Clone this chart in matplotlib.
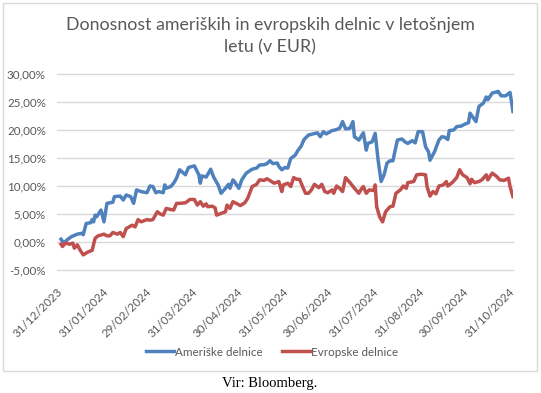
import pandas as pd
import matplotlib
matplotlib.use('Agg')
import matplotlib.pyplot as plt
import matplotlib.dates as mdates
from matplotlib.ticker import FuncFormatter, MultipleLocator
from matplotlib.patches import Rectangle

# dnevi od 31/12/2023 in donosnost (v %), odčitano s slike
us_days = [0, 2, 4, 7, 11, 14, 15, 17, 20, 21, 22, 23, 24, 27, 29, 31, 33, 35, 36, 40,
           42, 44, 47, 49, 51, 54, 58, 60, 62, 64, 66, 69, 70, 71, 74, 76, 78, 80, 84, 86,
           90, 93, 94, 95, 98, 101, 103, 106, 108, 111, 113, 114, 116, 117, 120, 122, 125, 129, 132, 134,
           137, 139, 141, 143, 146, 147, 149, 151, 153, 155, 158, 160, 162, 164, 167, 170, 173, 175, 177, 179,
           183, 185, 188, 190, 192, 195, 197, 198, 201, 204, 206, 207, 210, 212, 214, 216, 218, 220, 222, 224,
           225, 227, 230, 232, 234, 237, 239, 241, 244, 246, 248, 249, 252, 255, 257, 259, 261, 262, 265, 267,
           270, 273, 275, 276, 279, 280, 282, 285, 287, 288, 291, 294, 295, 297, 300, 303, 305]
us_vals = [0.5, -0.2, 0.36, 0.95, 1.4, 1.55, 1.3, 3.3, 3.45, 4.0, 3.6, 4.8, 4.5, 5.7, 3.6, 6.9, 7.0, 7.1, 8.1, 8.2,
           7.5, 8.4, 8.1, 6.9, 9.3, 9.0, 8.8, 10.0, 9.9, 8.8, 9.0, 8.8, 10.2, 9.6, 9.9, 10.5, 11.4, 12.9, 12.0, 13.3,
           13.6, 12.0, 10.5, 11.8, 11.6, 13.0, 11.6, 10.2, 8.7, 9.6, 10.3, 9.6, 11.1, 10.8, 9.6, 11.1, 12.3, 13.0, 13.2, 13.75,
           13.8, 14.0, 14.5, 14.0, 14.1, 13.5, 12.9, 13.3, 13.2, 14.9, 15.5, 16.4, 17.1, 18.3, 19.1, 19.3, 19.5, 18.8, 19.7, 19.3,
           19.9, 20.0, 20.3, 21.5, 20.2, 20.3, 21.5, 18.8, 18.2, 19.5, 16.4, 17.6, 17.9, 19.4, 14.6, 10.8, 12.0, 14.1, 14.5, 14.5,
           15.8, 18.2, 18.4, 17.9, 17.6, 18.1, 17.7, 19.7, 19.7, 17.0, 16.1, 14.6, 16.1, 18.2, 18.8, 18.7, 18.3, 19.9, 20.0, 20.6,
           20.7, 21.1, 21.3, 23.0, 21.9, 21.5, 24.2, 24.8, 25.9, 25.4, 26.6, 26.8, 26.9, 26.1, 26.1, 26.7, 23.3]

eu_days = [0, 1, 3, 6, 8, 9, 11, 13, 15, 18, 21, 23, 25, 29, 31, 33, 35, 38, 40, 42,
           44, 48, 50, 52, 54, 58, 60, 62, 65, 67, 69, 71, 74, 76, 78, 80, 84, 87, 90, 92,
           94, 96, 98, 99, 102, 104, 105, 108, 111, 112, 114, 116, 119, 121, 124, 126, 129, 132, 134, 137,
           139, 142, 144, 147, 149, 150, 153, 155, 157, 159, 161, 163, 165, 167, 169, 171, 174, 176, 178, 180,
           183, 184, 186, 188, 190, 192, 195, 198, 201, 203, 204, 206, 208, 211, 212, 213, 215, 217, 219, 222,
           224, 226, 229, 231, 233, 234, 238, 240, 243, 246, 247, 249, 251, 253, 255, 258, 260, 261, 264, 267,
           269, 271, 274, 276, 277, 279, 282, 284, 287, 288, 291, 294, 296, 299, 302, 303, 305]
eu_vals = [-0.4, -0.8, -0.2, -0.4, -0.2, -1.1, -0.5, -1.5, -2.3, -1.8, -1.5, 0.65, 1.1, 1.4, 1.1, 1.1, 1.7, 1.4, 1.7, 0.95,
           2.4, 3.0, 2.7, 4.0, 3.6, 4.0, 3.9, 4.0, 5.4, 5.0, 4.8, 6.0, 5.8, 5.7, 6.9, 6.9, 7.0, 7.6, 7.6, 6.6,
           7.2, 6.4, 6.8, 6.3, 6.4, 6.1, 4.8, 5.1, 5.4, 6.6, 6.0, 7.2, 6.8, 6.5, 7.0, 7.8, 9.9, 10.3, 11.1, 11.0,
           11.3, 10.8, 10.5, 10.8, 9.0, 10.2, 10.5, 9.9, 11.5, 11.2, 11.2, 9.9, 8.7, 8.7, 9.3, 10.3, 9.7, 10.3, 9.0, 8.8,
           9.3, 8.7, 10.0, 9.6, 9.0, 11.5, 10.6, 9.6, 8.7, 9.6, 9.9, 8.7, 9.3, 9.2, 10.2, 6.3, 4.5, 3.6, 5.4, 6.3,
           6.4, 8.7, 9.3, 10.0, 9.6, 10.6, 10.8, 12.0, 12.1, 12.0, 9.9, 8.2, 9.0, 8.6, 10.0, 10.2, 10.8, 10.0, 10.6, 11.5,
           12.9, 12.0, 11.5, 10.4, 11.2, 10.6, 10.8, 11.1, 12.0, 11.1, 12.3, 11.7, 11.1, 11.0, 11.4, 9.9, 8.1]

tick_dates = ['2023-12-31', '2024-01-31', '2024-02-29', '2024-03-31', '2024-04-30', '2024-05-31',
              '2024-06-30', '2024-07-31', '2024-08-31', '2024-09-30', '2024-10-31']

series_names = ['Ameriške delnice', 'Evropske delnice']
title = 'Donosnost ameriških in evropskih delnic v letošnjem\nletu (v EUR)'
source = 'Vir: Bloomberg.'

txt = '#595959'
plt.rcParams['font.family'] = ['Lato', 'DejaVu Sans']

base = pd.Timestamp('2023-12-31')
us_x = base + pd.to_timedelta(us_days, unit='D')
eu_x = base + pd.to_timedelta(eu_days, unit='D')

W, H = 541, 393
fig = plt.figure(figsize=(W / 100, H / 100), dpi=100)
ax = fig.add_axes([57 / W, 1 - 270 / H, (513 - 57) / W, (270 - 74) / H])

ax.plot(us_x, us_vals, color='#4F81BD', lw=2.5, solid_joinstyle='round', label=series_names[0])
ax.plot(eu_x, eu_vals, color='#C0504D', lw=2.5, solid_joinstyle='round', label=series_names[1])

ax.set_ylim(-5, 30)
ax.yaxis.set_major_locator(MultipleLocator(5))
ax.yaxis.set_major_formatter(FuncFormatter(lambda v, p: f'{v:.2f}%'.replace('.', ',')))
ax.set_xlim(base - pd.Timedelta(days=2.7), base + pd.Timedelta(days=305))
ax.set_xticks(pd.to_datetime(tick_dates))
ax.xaxis.set_major_formatter(mdates.DateFormatter('%d/%m/%Y'))

ax.grid(axis='y', color='#d9d9d9', lw=1)
ax.set_axisbelow(True)
for s in ax.spines.values():
    s.set_visible(False)
ax.tick_params(length=0)
ax.tick_params(axis='y', labelsize=8.4, labelcolor=txt, pad=8)
ax.tick_params(axis='x', labelsize=8.4, labelcolor=txt, pad=14)
for lab in ax.get_xticklabels():
    lab.set_rotation(45)
    lab.set_ha('right')
    lab.set_va('center')
    lab.set_rotation_mode('anchor')
# zgornja mreža naj se ne odreže
for gl in ax.get_ygridlines():
    gl.set_clip_on(False)

fig.text(270 / W, 1 - 36 / H, title, ha='center', va='center', fontsize=12.8,
         color=txt, linespacing=1.45)

fig.legend(loc='center', bbox_to_anchor=(272 / W, 1 - 352 / H), ncol=2, frameon=False,
           fontsize=8.4, labelcolor=txt, handlelength=2.4, handletextpad=0.15, columnspacing=1.6)

fig.patches.append(Rectangle((2.5 / W, 1 - 371 / H), 534 / W, 368.5 / H, transform=fig.transFigure,
                             fill=False, edgecolor='#d9d9d9', lw=1))

fig.text(270 / W, 1 - 383 / H, source, ha='center', va='center', fontsize=10.5,
         family='Liberation Serif', color='black')

fig.savefig('out.png', dpi=100)
